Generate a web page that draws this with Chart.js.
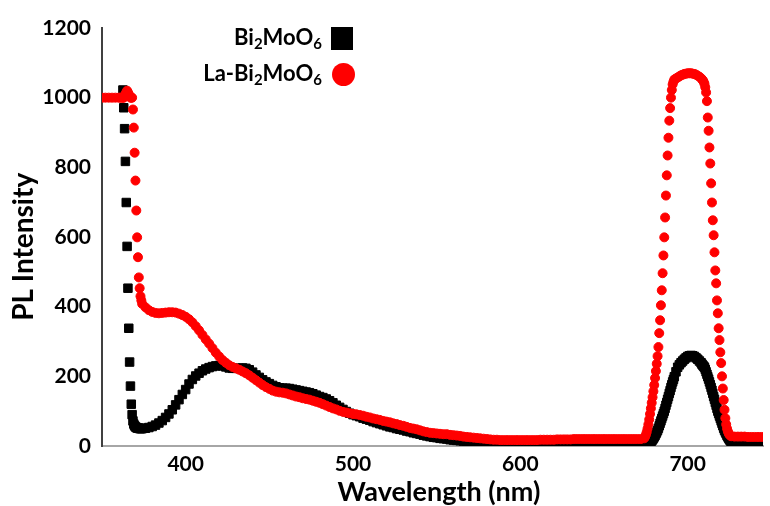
<!DOCTYPE html>
<html>
<head>
<meta charset="utf-8">
<script src="https://cdn.jsdelivr.net/npm/chart.js"></script>
<style>
  html, body { margin:0; padding:0; background:#fff; }
  #wrap { position:relative; width:770px; height:506px; }
  .key { position:absolute; right:448px; font:bold 22px Lato, sans-serif; color:#000; white-space:nowrap; line-height:1; }
  .key sub { font-size:0.68em; vertical-align:-0.3em; line-height:0; }
  .mark { position:absolute; }
</style>
</head>
<body>
<div id="wrap">
  <canvas id="plChart" width="770" height="506"></canvas>
  <div class="key" style="top:26px">Bi<sub>2</sub>MoO<sub>6</sub></div>
  <div class="mark" style="left:331px;top:27px;width:22px;height:23px;background:#000"></div>
  <div class="key" style="top:62px">La-Bi<sub>2</sub>MoO<sub>6</sub></div>
  <div class="mark" style="left:332px;top:63px;width:23px;height:23px;border-radius:50%;background:#f00"></div>
</div>
<script>
// Data (nm / PL counts)
const seriesNames = ['Bi2MoO6', 'La-Bi2MoO6'];
const xTicks = [400, 500, 600, 700];
const yTicks = [0, 200, 400, 600, 800, 1000, 1200];

const wavelength = [
  350,352,354,356,358,360,361,362,362.5,363,
  363.5,364,364.5,365,365.5,366,366.5,367,367.5,368,
  368.5,369,369.5,370,370.5,371,371.5,372,372.5,373,
  373.5,374,376,378,380,382,384,386,388,390,
  392,394,396,398,400,402,404,406,408,410,
  412,414,416,418,420,422,424,426,428,430,
  432,434,436,438,440,442,444,446,448,450,
  452,454,456,458,460,462,464,466,468,470,
  472,474,476,478,480,482,484,486,488,490,
  492,494,496,498,500,502,504,506,508,510,
  512,514,516,518,520,522,524,526,528,530,
  532,534,536,538,540,542,544,546,548,550,
  552,554,556,558,560,562,564,566,568,570,
  572,574,576,578,580,582,584,586,588,590,
  592,594,596,598,600,602,604,606,608,610,
  612,614,616,618,620,622,624,626,628,630,
  632,634,636,638,640,642,644,646,648,650,
  652,654,656,658,660,662,664,666,668,670,
  672,674,674.5,675,675.5,676,676.5,677,677.5,678,
  678.5,679,679.5,680,680.5,681,681.5,682,682.5,683,
  683.5,684,684.5,685,685.5,686,686.5,687,687.5,688,
  688.5,689,689.5,690,690.5,691,691.5,692,693,694,
  695,696,697,698,699,700,701,702,703,704,
  705,706,707,708,708.5,709,709.5,710,710.5,711,
  711.5,712,712.5,713,713.5,714,714.5,715,715.5,716,
  716.5,717,717.5,718,718.5,719,719.5,720,720.5,721,
  721.5,722,722.5,723,723.5,724,724.5,725,725.5,726,
  728,730,732,734,736,738,740,742,744,746
];

const bi2moo6 = [
  null,null,null,null,null,null,null,null,1022,971,
  911,817,699,573,453,338,241,172,120,90,
  72,63,58,55,53,52,51,51,50,50,
  50,50,51,53,56,60,66,73,82,92,
  104,118,133,148,162,178,191,201,209,216,
  221,225,228,230,231,230,227,224,223,223,
  223,224,223,219,212,204,197,190,184,179,
  174,170,167,166,166,165,163,161,159,157,
  155,153,150,146,142,139,135,130,124,117,
  111,105,99,94,90,87,84,80,77,74,
  70,67,64,61,58,55,53,50,48,46,
  43,41,38,36,34,31,29,27,25,24,
  22,21,20,18,17,16,15,14,13,13,
  12,11,11,10,10,9,9,8,8,8,
  7,7,7,6,6,6,6,6,6,6,
  5,5,5,5,5,5,5,5,5,5,
  5,5,5,5,5,5,5,5,5,5,
  5,5,5,5,5,5,5,5,5,5,
  5,5,5,5,6,6,7,8,10,12,
  15,18,22,26,30,35,40,45,51,58,
  65,72,79,86,93,100,108,117,125,134,
  142,151,159,168,176,184,191,199,213,226,
  233,239,244,249,253,257,259,260,259,257,
  253,249,244,239,235,232,229,226,220,213,
  206,199,192,184,176,168,160,151,142,134,
  125,117,108,100,93,86,79,72,65,58,
  51,45,40,35,30,26,22,18,15,12,
  6,5,4,4,4,4,4,4,4,4
];

const laBi2moo6 = [
  1000,1000,1000,1000,1000,1000,1000,1000,1000,1000,
  1005,1010,1015,1020,1015,1010,1005,1000,1000,1000,
  966,914,842,762,676,599,542,484,453,430,
  418,408,398,390,385,382,381,382,383,384,
  384,383,380,376,371,364,355,344,332,319,
  306,294,281,268,257,247,239,232,227,223,
  219,214,209,203,196,189,182,175,169,164,
  159,156,154,153,151,148,145,142,140,137,
  135,133,130,127,124,120,116,112,108,105,
  101,98,96,94,92,91,89,87,84,82,
  79,77,75,72,70,68,65,63,60,58,
  55,52,50,48,45,42,40,38,37,36,
  35,34,34,32,31,30,29,27,26,25,
  24,23,22,21,20,19,18,18,17,17,
  17,17,17,17,17,17,17,17,17,17,
  18,18,18,18,18,19,19,19,19,19,
  20,20,20,20,20,20,20,20,20,20,
  20,20,20,20,20,20,20,20,20,20,
  20,22,26,32,40,50,62,76,92,108,
  124,140,157,175,195,215,236,258,284,324,
  361,404,447,496,547,599,656,719,777,834,
  885,934,970,1000,1022,1038,1046,1052,1055,1058,
  1061,1064,1066,1068,1069,1070,1070,1070,1069,1068,
  1066,1063,1060,1056,1053,1050,1046,1040,1030,1015,
  990,943,905,857,811,754,699,648,605,556,
  504,467,418,381,338,304,269,238,200,165,
  132,104,80,62,50,42,36,32,30,28,
  27,27,27,27,26,26,26,26,26,26
];

const ctx = document.getElementById('plChart').getContext('2d');

// pair wavelengths with each series, skip the gaps
function toPoints(ys){
  return wavelength.map((x, i) => ({ x: x, y: ys[i] })).filter(p => p.y !== null);
}

const tickFont = { family:'Lato', weight:'bold', size:21 };

new Chart(ctx, {
  type: 'scatter',
  data: {
    datasets: [
      { label: seriesNames[1], data: toPoints(laBi2moo6), pointStyle:'circle', pointRadius:4.5, pointHoverRadius:4.5,
        borderWidth:1, backgroundColor:'#ff0000', borderColor:'#ff0000', order:0 },
      { label: seriesNames[0], data: toPoints(bi2moo6), pointStyle:'rect', pointRadius:6, pointHoverRadius:6,
        borderWidth:1, backgroundColor:'#000000', borderColor:'#000000', order:1 }
    ]
  },
  options: {
    responsive:false,
    animation:false,
    devicePixelRatio:1,
    layout:{ padding:{ top:28, right:0, bottom:0, left:0 } },
    plugins:{ legend:{ display:false }, tooltip:{ enabled:false } },
    scales:{
      x:{
        type:'linear', min:350, max:745,
        grid:{ display:false, drawTicks:false },
        border:{ color:'#a6a6a6', width:2 },
        afterBuildTicks: s => { s.ticks = xTicks.map(v => ({ value:v })); },
        afterFit: s => { s.height = 60; },
        ticks:{ color:'#000', font:tickFont, padding:6, maxRotation:0, callback: v => String(v) },
        title:{ display:true, text:'\u00a0\u00a0Wavelength (nm)', color:'#000',
          font:{ family:'Lato', weight:'bold', size:27, lineHeight:1 }, padding:{ top:0, bottom:0 } }
      },
      y:{
        type:'linear', min:0, max:1200,
        grid:{ display:false, drawTicks:false },
        border:{ color:'#404040', width:2 },
        afterBuildTicks: s => { s.ticks = yTicks.map(v => ({ value:v })); },
        afterFit: s => { s.width = 102; },
        ticks:{ color:'#000', font:tickFont, padding:11, callback: v => String(v) },
        // trailing spaces nudge the rotated title down to where the original sits
        title:{ display:true, text:'PL Intensity\u00a0\u00a0\u00a0', color:'#000',
          font:{ family:'Lato', weight:'bold', size:28, lineHeight:1 }, padding:{ top:10, bottom:0 } }
      }
    }
  }
});
</script>
</body>
</html>
